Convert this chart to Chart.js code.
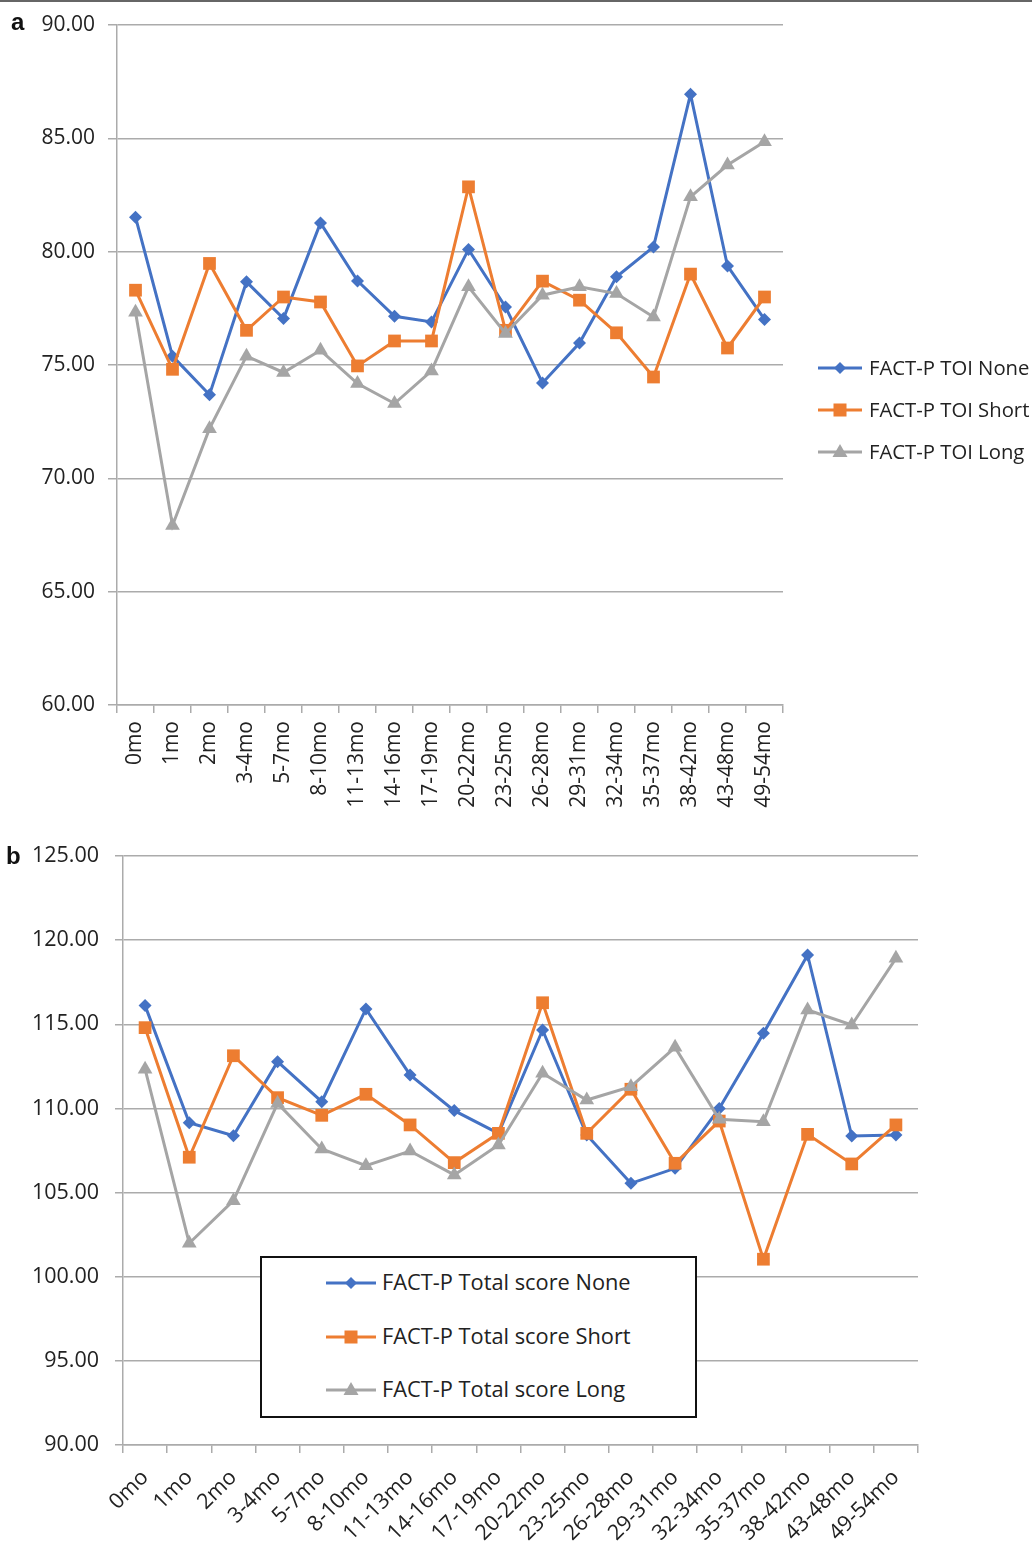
<!DOCTYPE html>
<html>
<head>
<meta charset="utf-8">
<script src="https://cdn.jsdelivr.net/npm/chart.js@4.4.1/dist/chart.umd.min.js"></script>
<style>
  html, body { margin: 0; padding: 0; background: #fff; }
  body { width: 1032px; height: 1542px; position: relative; overflow: hidden; font-family: "Open Sans", sans-serif; }
  .topline { position: absolute; left: 0; top: 0; width: 1032px; height: 2px; background: #666; z-index: 5; }
  .panel { position: absolute; left: 0; width: 1032px; }
  .panel canvas { position: absolute; left: 0; top: 0; }
  .tag { position: absolute; font-family: "Liberation Sans", Arial, sans-serif; font-weight: bold; font-size: 24px; line-height: 24px; color: #111; }
  .legend { position: absolute; font-family: "Open Sans", sans-serif; color: #222; }
  .legend .item { position: absolute; left: 0; height: 24px; white-space: nowrap; }
  .legend .item svg { position: absolute; left: 0; top: 0; }
  .legend .item span { position: absolute; top: -1px; line-height: 24px; }
  #legB { border: 2px solid #111; box-sizing: border-box; background: #fff; }
</style>
</head>
<body>
<div class="topline"></div>

<div class="panel" id="panelA" style="top:-10px; height:822px;">
  <canvas id="chartA" width="1032" height="822"></canvas>
  <div class="tag" style="left:11px; top:20px;">a</div>
  <div class="legend" id="legA" style="left:818px; top:366px; width:214px; height:110px;"></div>
</div>

<div class="panel" id="panelB" style="top:826px; height:716px;">
  <canvas id="chartB" width="1032" height="716"></canvas>
  <div class="tag" style="left:6px; top:18px;">b</div>
  <div class="legend" id="legB" style="left:260px; top:430px; width:437px; height:162px;"></div>
</div>

<script>
// Follow-up intervals (months since baseline)
const categories = ['0mo', '1mo', '2mo', '3-4mo', '5-7mo', '8-10mo', '11-13mo', '14-16mo', '17-19mo',
  '20-22mo', '23-25mo', '26-28mo', '29-31mo', '32-34mo', '35-37mo', '38-42mo', '43-48mo', '49-54mo'];

// Panel a: FACT-P Trial Outcome Index
const toiNone  = [81.52, 75.39, 73.69, 78.67, 77.05, 81.27, 78.71, 77.15, 76.90, 80.10, 77.56, 74.21, 75.97, 78.89, 80.21, 86.95, 79.37, 77.01];
const toiShort = [78.30, 74.81, 79.48, 76.53, 78.00, 77.78, 74.96, 76.06, 76.06, 82.86, 76.53, 78.70, 77.86, 76.42, 74.47, 79.01, 75.75, 78.00];
const toiLong  = [77.33, 67.92, 72.19, 75.39, 74.67, 75.65, 74.18, 73.30, 74.74, 78.45, 76.39, 78.08, 78.45, 78.15, 77.12, 82.42, 83.82, 84.85];

// Panel b: FACT-P total score
const totalNone  = [116.11, 109.15, 108.38, 112.78, 110.40, 115.91, 111.99, 109.87, 108.52, 114.66, 108.42, 105.55, 106.44, 110.00, 114.46, 119.12, 108.36, 108.42];
const totalShort = [114.80, 107.10, 113.13, 110.64, 109.59, 110.84, 109.02, 106.78, 108.52, 116.28, 108.52, 111.14, 106.74, 109.25, 101.04, 108.46, 106.70, 109.02];
const totalLong  = [112.33, 101.99, 104.52, 110.30, 107.59, 106.60, 107.47, 106.05, 107.83, 112.09, 110.50, 111.29, 113.63, 109.36, 109.21, 115.85, 114.96, 118.92];

// Axis ranges and series names
const yRangeA = { min: 60, max: 90, step: 5 };
const yRangeB = { min: 90, max: 125, step: 5 };
const namesA = ['FACT-P TOI None', 'FACT-P TOI Short', 'FACT-P TOI Long'];
const namesB = ['FACT-P Total score None', 'FACT-P Total score Short', 'FACT-P Total score Long'];

const COLORS = ['#4472C4', '#ED7D31', '#A5A5A5'];
const MARKERS = [
  { style: 'rectRot', radius: 6.5 },
  { style: 'rect', radius: 9 },
  { style: 'triangle', radius: 8.5 }
];
const GRID = '#ababab';
const TEXT = '#222';
const FONT = '"Open Sans", sans-serif';

function makeDatasets(names, series) {
  return series.map((data, i) => ({
    label: names[i],
    data: data,
    borderColor: COLORS[i],
    backgroundColor: COLORS[i],
    borderWidth: 3,
    pointStyle: MARKERS[i].style,
    pointRadius: MARKERS[i].radius,
    pointHoverRadius: MARKERS[i].radius,
    pointBorderWidth: 0,
    pointBackgroundColor: COLORS[i],
    tension: 0,
    // later series sit on top of earlier ones
    order: series.length - 1 - i
  }));
}

function makeChart(canvasId, cfg) {
  return new Chart(document.getElementById(canvasId), {
    type: 'line',
    data: { labels: categories, datasets: makeDatasets(cfg.names, cfg.series) },
    options: {
      responsive: false,
      animation: false,
      events: [],
      layout: { padding: cfg.padding },
      plugins: { legend: { display: false }, tooltip: { enabled: false } },
      scales: {
        x: {
          type: 'category',
          offset: true,
          border: { color: GRID, width: 1.5 },
          grid: { offset: true, drawOnChartArea: false, drawTicks: true, tickLength: 8, color: GRID, lineWidth: 1.5 },
          ticks: {
            color: TEXT, font: { family: FONT, size: cfg.fontSize }, padding: cfg.xPad,
            minRotation: cfg.rotation, maxRotation: cfg.rotation, autoSkip: false
          },
          afterFit: s => { s.height = cfg.xHeight; }
        },
        y: {
          min: cfg.range.min, max: cfg.range.max,
          border: { color: GRID, width: 1.5 },
          grid: { color: GRID, lineWidth: 1.5, tickLength: cfg.yTick, drawTicks: true },
          ticks: {
            stepSize: cfg.range.step, color: TEXT, font: { family: FONT, size: cfg.fontSize }, padding: cfg.yPad,
            callback: v => Number(v).toFixed(2)
          },
          afterFit: s => { s.width = cfg.yWidth; }
        }
      }
    }
  });
}

makeChart('chartA', {
  names: namesA, series: [toiNone, toiShort, toiLong], range: yRangeA, fontSize: 21,
  padding: { top: 35, right: 249, bottom: 0, left: 0 },
  yWidth: 117, yTick: 9, yPad: 13, xHeight: 107, xPad: 8, rotation: 90
});

makeChart('chartB', {
  names: namesB, series: [totalNone, totalShort, totalLong], range: yRangeB, fontSize: 21.5,
  padding: { top: 30, right: 114, bottom: 0, left: 0 },
  yWidth: 123, yTick: 8, yPad: 16, xHeight: 97, xPad: 12, rotation: 45
});

// Legend swatches: line segment with the series marker in the middle
function swatch(i, w) {
  const c = COLORS[i], m = w / 2, y = 12;
  let mark;
  if (i === 0) mark = `<polygon points="${m},${y - 6} ${m + 6},${y} ${m},${y + 6} ${m - 6},${y}" fill="${c}"/>`;
  else if (i === 1) mark = `<rect x="${m - 6.5}" y="${y - 6.5}" width="13" height="13" fill="${c}"/>`;
  else mark = `<polygon points="${m},${y - 8} ${m + 7.5},${y + 5} ${m - 7.5},${y + 5}" fill="${c}"/>`;
  return `<svg width="${w}" height="24"><line x1="0" y1="${y}" x2="${w}" y2="${y}" stroke="${c}" stroke-width="3"/>${mark}</svg>`;
}

function buildLegend(id, names, opts) {
  const box = document.getElementById(id);
  names.forEach((n, i) => {
    const it = document.createElement('div');
    it.className = 'item';
    it.style.left = opts.left + 'px';
    it.style.top = (opts.top + i * opts.gap) + 'px';
    it.innerHTML = swatch(i, opts.sw) + `<span style="left:${opts.sw + opts.textGap}px; font-size:${opts.size}px;">${n}</span>`;
    box.appendChild(it);
  });
}

buildLegend('legA', namesA, { left: 0, top: 0, gap: 42, sw: 44, textGap: 7, size: 20.3 });
buildLegend('legB', namesB, { left: 64, top: 13, gap: 53.5, sw: 50, textGap: 6, size: 21.8 });
</script>
</body>
</html>
